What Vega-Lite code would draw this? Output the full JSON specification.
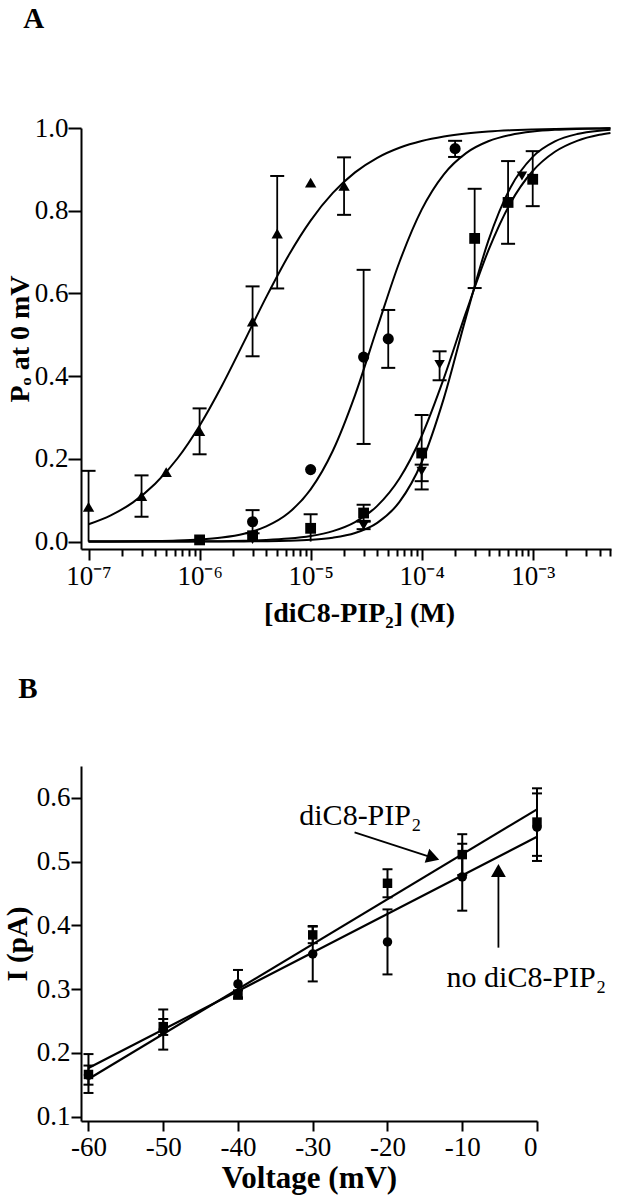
{
  "$schema": "https://vega.github.io/schema/vega-lite/v6.json",
  "padding": {"left": 3, "top": 5, "right": 5, "bottom": 3},
  "background": "white",
  "spacing": 48,
  "resolve": {"scale": {"shape": "independent", "size": "independent"}},
  "config": {
    "view": {"stroke": null},
    "font": "Liberation Serif",
    "axis": {
      "domainColor": "black", "domainWidth": 2, "tickColor": "black", "tickWidth": 2,
      "labelColor": "black", "titleColor": "black", "grid": false,
      "labelFont": "Liberation Serif", "titleFont": "Liberation Serif",
      "labelFontSize": 27, "titleFontSize": 29, "titleFontWeight": "bold", "labelPadding": 2
    }
  },
  "datasets": {
    "curves": [
      {"curve": "T", "conc": 1e-7, "P": 0.0418}, {"curve": "T", "conc": 1.585e-7, "P": 0.0634}, {"curve": "T", "conc": 2.512e-7, "P": 0.0948}, {"curve": "T", "conc": 3.981e-7, "P": 0.1396}, {"curve": "T", "conc": 6.31e-7, "P": 0.2008},
      {"curve": "T", "conc": 1e-6, "P": 0.2802}, {"curve": "T", "conc": 1.585e-6, "P": 0.3761}, {"curve": "T", "conc": 2.512e-6, "P": 0.4828}, {"curve": "T", "conc": 3.981e-6, "P": 0.5911}, {"curve": "T", "conc": 6.31e-6, "P": 0.6913},
      {"curve": "T", "conc": 1e-5, "P": 0.7762}, {"curve": "T", "conc": 1.585e-5, "P": 0.843}, {"curve": "T", "conc": 2.512e-5, "P": 0.8927}, {"curve": "T", "conc": 3.981e-5, "P": 0.928}, {"curve": "T", "conc": 6.31e-5, "P": 0.9523},
      {"curve": "T", "conc": 1e-4, "P": 0.9687}, {"curve": "T", "conc": 1.585e-4, "P": 0.9795}, {"curve": "T", "conc": 2.512e-4, "P": 0.9867}, {"curve": "T", "conc": 3.981e-4, "P": 0.9914}, {"curve": "T", "conc": 6.31e-4, "P": 0.9944},
      {"curve": "T", "conc": 1e-3, "P": 0.9964}, {"curve": "T", "conc": 1.585e-3, "P": 0.9977}, {"curve": "T", "conc": 2.512e-3, "P": 0.9985}, {"curve": "T", "conc": 3.981e-3, "P": 0.999}, {"curve": "T", "conc": 5.012e-3, "P": 0.9992},

      {"curve": "C", "conc": 1e-7, "P": 0.0002}, {"curve": "C", "conc": 1.585e-7, "P": 0.0004}, {"curve": "C", "conc": 2.512e-7, "P": 0.0007}, {"curve": "C", "conc": 3.981e-7, "P": 0.0013}, {"curve": "C", "conc": 6.31e-7, "P": 0.0026},
      {"curve": "C", "conc": 1e-6, "P": 0.0051}, {"curve": "C", "conc": 1.585e-6, "P": 0.0099}, {"curve": "C", "conc": 2.512e-6, "P": 0.0191}, {"curve": "C", "conc": 3.981e-6, "P": 0.0366}, {"curve": "C", "conc": 6.31e-6, "P": 0.0689},
      {"curve": "C", "conc": 1e-5, "P": 0.1261}, {"curve": "C", "conc": 1.585e-5, "P": 0.2196}, {"curve": "C", "conc": 2.512e-5, "P": 0.3542}, {"curve": "C", "conc": 3.981e-5, "P": 0.5169}, {"curve": "C", "conc": 6.31e-5, "P": 0.676},
      {"curve": "C", "conc": 1e-4, "P": 0.8026}, {"curve": "C", "conc": 1.585e-4, "P": 0.888}, {"curve": "C", "conc": 2.512e-4, "P": 0.9393}, {"curve": "C", "conc": 3.981e-4, "P": 0.9679}, {"curve": "C", "conc": 6.31e-4, "P": 0.9833},
      {"curve": "C", "conc": 1e-3, "P": 0.9913}, {"curve": "C", "conc": 1.585e-3, "P": 0.9955}, {"curve": "C", "conc": 2.512e-3, "P": 0.9977}, {"curve": "C", "conc": 3.981e-3, "P": 0.9988}, {"curve": "C", "conc": 5.012e-3, "P": 0.9992},

      {"curve": "S", "conc": 1e-7, "P": 0.0}, {"curve": "S", "conc": 1.585e-7, "P": 0.00004}, {"curve": "S", "conc": 2.512e-7, "P": 0.00008}, {"curve": "S", "conc": 3.981e-7, "P": 0.00015}, {"curve": "S", "conc": 6.31e-7, "P": 0.00029},
      {"curve": "S", "conc": 1e-6, "P": 0.00054}, {"curve": "S", "conc": 1.585e-6, "P": 0.00103}, {"curve": "S", "conc": 2.512e-6, "P": 0.00197}, {"curve": "S", "conc": 3.981e-6, "P": 0.00374}, {"curve": "S", "conc": 6.31e-6, "P": 0.00711},
      {"curve": "S", "conc": 1e-5, "P": 0.01346}, {"curve": "S", "conc": 1.585e-5, "P": 0.0253}, {"curve": "S", "conc": 2.512e-5, "P": 0.0472}, {"curve": "S", "conc": 3.981e-5, "P": 0.0863}, {"curve": "S", "conc": 6.31e-5, "P": 0.1525},
      {"curve": "S", "conc": 1e-4, "P": 0.2553}, {"curve": "S", "conc": 1.585e-4, "P": 0.3951}, {"curve": "S", "conc": 2.512e-4, "P": 0.5546}, {"curve": "S", "conc": 3.981e-4, "P": 0.7035}, {"curve": "S", "conc": 6.31e-4, "P": 0.8189},
      {"curve": "S", "conc": 1e-3, "P": 0.896}, {"curve": "S", "conc": 1.585e-3, "P": 0.9426}, {"curve": "S", "conc": 2.512e-3, "P": 0.969}, {"curve": "S", "conc": 3.981e-3, "P": 0.9835}, {"curve": "S", "conc": 5.012e-3, "P": 0.988},

      {"curve": "V", "conc": 1e-7, "P": 0.0}, {"curve": "V", "conc": 1.585e-7, "P": 0.0}, {"curve": "V", "conc": 2.512e-7, "P": 0.0}, {"curve": "V", "conc": 3.981e-7, "P": 0.00001}, {"curve": "V", "conc": 6.31e-7, "P": 0.00003},
      {"curve": "V", "conc": 1e-6, "P": 0.000075}, {"curve": "V", "conc": 1.585e-6, "P": 0.00017}, {"curve": "V", "conc": 2.512e-6, "P": 0.00038}, {"curve": "V", "conc": 3.981e-6, "P": 0.00084}, {"curve": "V", "conc": 6.31e-6, "P": 0.00188},
      {"curve": "V", "conc": 1e-5, "P": 0.0042}, {"curve": "V", "conc": 1.585e-5, "P": 0.00935}, {"curve": "V", "conc": 2.512e-5, "P": 0.0207}, {"curve": "V", "conc": 3.981e-5, "P": 0.0452}, {"curve": "V", "conc": 6.31e-5, "P": 0.0958},
      {"curve": "V", "conc": 1e-4, "P": 0.1918}, {"curve": "V", "conc": 1.585e-4, "P": 0.3469}, {"curve": "V", "conc": 2.512e-4, "P": 0.5433}, {"curve": "V", "conc": 3.981e-4, "P": 0.727}, {"curve": "V", "conc": 6.31e-4, "P": 0.8563},
      {"curve": "V", "conc": 1e-3, "P": 0.9303}, {"curve": "V", "conc": 1.585e-3, "P": 0.9676}, {"curve": "V", "conc": 2.512e-3, "P": 0.9853}, {"curve": "V", "conc": 3.981e-3, "P": 0.9934}, {"curve": "V", "conc": 5.012e-3, "P": 0.9956}
    ],
    "ptsA": [
      {"series": "T", "conc": 1e-7, "P": 0.084, "lo": 0.0, "hi": 0.171},
      {"series": "T", "conc": 3e-7, "P": 0.11, "lo": 0.06, "hi": 0.16},
      {"series": "T", "conc": 5e-7, "P": 0.168, "lo": null, "hi": null},
      {"series": "T", "conc": 1e-6, "P": 0.267, "lo": 0.211, "hi": 0.322},
      {"series": "T", "conc": 3e-6, "P": 0.532, "lo": 0.448, "hi": 0.617},
      {"series": "T", "conc": 5e-6, "P": 0.745, "lo": 0.612, "hi": 0.884},
      {"series": "T", "conc": 1e-5, "P": 0.868, "lo": null, "hi": null},
      {"series": "T", "conc": 2e-5, "P": 0.86, "lo": 0.79, "hi": 0.929},
      {"series": "C", "conc": 3e-6, "P": 0.048, "lo": 0.02, "hi": 0.076},
      {"series": "C", "conc": 1e-5, "P": 0.174, "lo": null, "hi": null},
      {"series": "C", "conc": 3e-5, "P": 0.446, "lo": 0.236, "hi": 0.657},
      {"series": "C", "conc": 5e-5, "P": 0.49, "lo": 0.42, "hi": 0.56},
      {"series": "C", "conc": 2e-4, "P": 0.95, "lo": 0.93, "hi": 0.969},
      {"series": "S", "conc": 1e-6, "P": 0.004, "lo": null, "hi": null},
      {"series": "S", "conc": 3e-6, "P": 0.014, "lo": null, "hi": null},
      {"series": "S", "conc": 1e-5, "P": 0.032, "lo": 0.0, "hi": 0.066},
      {"series": "S", "conc": 3e-5, "P": 0.069, "lo": 0.05, "hi": 0.089},
      {"series": "S", "conc": 1e-4, "P": 0.214, "lo": 0.126, "hi": 0.306},
      {"series": "S", "conc": 3e-4, "P": 0.733, "lo": 0.613, "hi": 0.853},
      {"series": "S", "conc": 6e-4, "P": 0.82, "lo": 0.72, "hi": 0.92},
      {"series": "S", "conc": 1e-3, "P": 0.876, "lo": 0.811, "hi": 0.944},
      {"series": "V", "conc": 3e-6, "P": 0.005, "lo": null, "hi": null},
      {"series": "V", "conc": 3e-5, "P": 0.039, "lo": 0.03, "hi": 0.048},
      {"series": "V", "conc": 1e-4, "P": 0.17, "lo": 0.146, "hi": 0.186},
      {"series": "V", "conc": 1.45e-4, "P": 0.428, "lo": 0.39, "hi": 0.46},
      {"series": "V", "conc": 8e-4, "P": 0.884, "lo": null, "hi": null}
    ],
    "ivLines": [
      {"series": "diC8", "V": -60, "I": 0.159}, {"series": "diC8", "V": 0, "I": 0.582},
      {"series": "none", "V": -60, "I": 0.176}, {"series": "none", "V": 0, "I": 0.539}
    ],
    "ivPts": [
      {"series": "diC8", "V": -60, "I": 0.166, "lo": 0.137, "hi": 0.198},
      {"series": "diC8", "V": -50, "I": 0.241, "lo": 0.228, "hi": 0.253},
      {"series": "diC8", "V": -40, "I": 0.291, "lo": 0.285, "hi": 0.298},
      {"series": "diC8", "V": -30, "I": 0.385, "lo": 0.372, "hi": 0.399},
      {"series": "diC8", "V": -20, "I": 0.466, "lo": 0.444, "hi": 0.488},
      {"series": "diC8", "V": -10, "I": 0.511, "lo": 0.479, "hi": 0.543},
      {"series": "diC8", "V": 0, "I": 0.562, "lo": 0.509, "hi": 0.615},
      {"series": "none", "V": -60, "I": 0.165, "lo": 0.15, "hi": 0.18},
      {"series": "none", "V": -50, "I": 0.236, "lo": 0.205, "hi": 0.268},
      {"series": "none", "V": -40, "I": 0.308, "lo": 0.287, "hi": 0.33},
      {"series": "none", "V": -30, "I": 0.355, "lo": 0.312, "hi": 0.398},
      {"series": "none", "V": -20, "I": 0.374, "lo": 0.323, "hi": 0.425},
      {"series": "none", "V": -10, "I": 0.476, "lo": 0.423, "hi": 0.528},
      {"series": "none", "V": 0, "I": 0.554, "lo": 0.501, "hi": 0.607}
    ],
    "notes": [
      {"V": -31.8, "I": 0.558, "text": "diC8-PIP₂"},
      {"V": -12.1, "I": 0.303, "text": "no diC8-PIP₂"}
    ],
    "arrows": [
      {"V": -24.4, "I": 0.546, "V2": -13.9, "I2": 0.506},
      {"V": -5.16, "I": 0.365, "V2": -5.16, "I2": 0.49}
    ],
    "head1": [{"V": -13.9, "I": 0.506}],
    "head2": [{"V": -5.16, "I": 0.486}]
  },
  "vconcat": [
    {
      "width": 530,
      "height": 421,
      "title": {"text": "A", "anchor": "start", "frame": "bounds", "fontSize": 29, "fontWeight": "bold", "font": "Liberation Serif", "color": "black", "offset": 80, "dx": 17},
      "layer": [
        {
          "data": {"name": "curves"},
          "mark": {"type": "line", "color": "black", "strokeWidth": 2, "interpolate": "monotone"},
          "encoding": {
            "x": {
              "field": "conc", "type": "quantitative", "title": "[diC8-PIP₂] (M)",
              "scale": {"type": "log", "domain": [8.55e-8, 5.07e-3], "nice": false},
              "axis": {
                "values": [1e-7, 2e-7, 3e-7, 4e-7, 5e-7, 6e-7, 7e-7, 8e-7, 9e-7, 1e-6, 2e-6, 3e-6, 4e-6, 5e-6, 6e-6, 7e-6, 8e-6, 9e-6, 1e-5, 2e-5, 3e-5, 4e-5, 5e-5, 6e-5, 7e-5, 8e-5, 9e-5, 1e-4, 2e-4, 3e-4, 4e-4, 5e-4, 6e-4, 7e-4, 8e-4, 9e-4, 1e-3, 2e-3, 3e-3, 4e-3, 5e-3],
                "tickSize": {"condition": {"test": "abs(log(datum.value)/LN10 - round(log(datum.value)/LN10)) < 0.001", "value": 11}, "value": 7},
                "labelExpr": "abs(log(datum.value)/LN10 - round(log(datum.value)/LN10)) < 0.001 ? '10⁻' + ['⁰','¹','²','³','⁴','⁵','⁶','⁷','⁸','⁹'][-round(log(datum.value)/LN10)] : ''",
                "labelFontSize": 27, "labelPadding": 3, "titleFontSize": 28, "titlePadding": 10, "titleX": 278, "labelOverlap": false, "labelBound": false
              }
            },
            "y": {
              "field": "P", "type": "quantitative", "title": "Pₒ at 0 mV",
              "scale": {"domain": [-0.018, 1], "nice": false, "zero": false},
              "axis": {"values": [0, 0.2, 0.4, 0.6, 0.8, 1.0], "format": ".1f", "tickSize": 13, "titlePadding": 0, "labelPadding": 0, "labelFontSize": 27, "titleFontSize": 28}
            },
            "detail": {"field": "curve", "type": "nominal"}
          }
        },
        {
          "data": {"name": "ptsA"},
          "transform": [{"filter": "isValid(datum.lo)"}],
          "mark": {"type": "rule", "color": "black", "strokeWidth": 1.8},
          "encoding": {
            "x": {"field": "conc", "type": "quantitative", "title": "[diC8-PIP₂] (M)"},
            "y": {"field": "lo", "type": "quantitative", "title": "Pₒ at 0 mV"},
            "y2": {"field": "hi"}
          }
        },
        {
          "data": {"name": "ptsA"},
          "transform": [{"filter": "isValid(datum.lo) && datum.lo > 0.001"}],
          "mark": {"type": "tick", "color": "black", "opacity": 1, "orient": "horizontal", "size": 14, "thickness": 2},
          "encoding": {
            "x": {"field": "conc", "type": "quantitative", "title": "[diC8-PIP₂] (M)"},
            "y": {"field": "lo", "type": "quantitative", "title": "Pₒ at 0 mV"}
          }
        },
        {
          "data": {"name": "ptsA"},
          "transform": [{"filter": "isValid(datum.hi)"}],
          "mark": {"type": "tick", "color": "black", "opacity": 1, "orient": "horizontal", "size": 14, "thickness": 2},
          "encoding": {
            "x": {"field": "conc", "type": "quantitative", "title": "[diC8-PIP₂] (M)"},
            "y": {"field": "hi", "type": "quantitative", "title": "Pₒ at 0 mV"}
          }
        },
        {
          "data": {"name": "ptsA"},
          "mark": {"type": "point", "filled": true, "color": "black", "opacity": 1},
          "encoding": {
            "x": {"field": "conc", "type": "quantitative", "title": "[diC8-PIP₂] (M)"},
            "y": {"field": "P", "type": "quantitative", "title": "Pₒ at 0 mV"},
            "shape": {"field": "series", "type": "nominal", "scale": {"domain": ["T", "C", "S", "V"], "range": ["triangle-up", "circle", "square", "triangle-down"]}, "legend": null},
            "size": {"field": "series", "type": "nominal", "scale": {"domain": ["T", "C", "S", "V"], "range": [130, 110, 110, 130]}, "legend": null}
          }
        }
      ]
    },
    {
      "width": 456,
      "height": 355,
      "title": {"text": "B", "anchor": "start", "frame": "bounds", "fontSize": 29, "fontWeight": "bold", "font": "Liberation Serif", "color": "black", "offset": 62, "dx": 15},
      "layer": [
        {
          "data": {"name": "ivLines"},
          "mark": {"type": "line", "color": "black", "strokeWidth": 2.2},
          "encoding": {
            "x": {
              "field": "V", "type": "quantitative", "title": "Voltage (mV)",
              "scale": {"domain": [-61, 0], "nice": false, "zero": false},
              "axis": {"values": [-60, -50, -40, -30, -20, -10, 0], "tickSize": 10, "labelExpr": "replace(datum.label, '\u2212', '-')", "labelFontSize": 27, "labelPadding": 3, "titleFontSize": 31, "titlePadding": 3}
            },
            "y": {
              "field": "I", "type": "quantitative", "title": "I (pA)",
              "scale": {"domain": [0.093, 0.65], "nice": false, "zero": false},
              "axis": {"values": [0.1, 0.2, 0.3, 0.4, 0.5, 0.6], "format": ".1f", "tickSize": 10, "titlePadding": 4, "labelPadding": 1, "labelFontSize": 27}
            },
            "detail": {"field": "series", "type": "nominal"}
          }
        },
        {
          "data": {"name": "ivPts"},
          "mark": {"type": "rule", "color": "black", "strokeWidth": 2},
          "encoding": {
            "x": {"field": "V", "type": "quantitative", "title": "Voltage (mV)"},
            "y": {"field": "lo", "type": "quantitative", "title": "I (pA)"},
            "y2": {"field": "hi"}
          }
        },
        {
          "data": {"name": "ivPts"},
          "mark": {"type": "tick", "color": "black", "opacity": 1, "orient": "horizontal", "size": 10, "thickness": 2},
          "encoding": {
            "x": {"field": "V", "type": "quantitative", "title": "Voltage (mV)"},
            "y": {"field": "lo", "type": "quantitative", "title": "I (pA)"}
          }
        },
        {
          "data": {"name": "ivPts"},
          "mark": {"type": "tick", "color": "black", "opacity": 1, "orient": "horizontal", "size": 10, "thickness": 2},
          "encoding": {
            "x": {"field": "V", "type": "quantitative", "title": "Voltage (mV)"},
            "y": {"field": "hi", "type": "quantitative", "title": "I (pA)"}
          }
        },
        {
          "data": {"name": "ivPts"},
          "mark": {"type": "point", "filled": true, "color": "black", "opacity": 1},
          "encoding": {
            "x": {"field": "V", "type": "quantitative", "title": "Voltage (mV)"},
            "y": {"field": "I", "type": "quantitative", "title": "I (pA)"},
            "shape": {"field": "series", "type": "nominal", "scale": {"domain": ["diC8", "none"], "range": ["square", "circle"]}, "legend": null},
            "size": {"value": 90}
          }
        },
        {
          "data": {"name": "arrows"},
          "mark": {"type": "rule", "color": "black", "strokeWidth": 1.8},
          "encoding": {
            "x": {"field": "V", "type": "quantitative", "title": "Voltage (mV)"},
            "y": {"field": "I", "type": "quantitative", "title": "I (pA)"},
            "x2": {"field": "V2"},
            "y2": {"field": "I2"}
          }
        },
        {
          "data": {"name": "head1"},
          "mark": {"type": "point", "shape": "triangle-right", "angle": 18, "filled": true, "color": "black", "opacity": 1, "size": 220},
          "encoding": {
            "x": {"field": "V", "type": "quantitative", "title": "Voltage (mV)"},
            "y": {"field": "I", "type": "quantitative", "title": "I (pA)"}
          }
        },
        {
          "data": {"name": "head2"},
          "mark": {"type": "point", "shape": "triangle-up", "filled": true, "color": "black", "opacity": 1, "size": 220},
          "encoding": {
            "x": {"field": "V", "type": "quantitative", "title": "Voltage (mV)"},
            "y": {"field": "I", "type": "quantitative", "title": "I (pA)"}
          }
        },
        {
          "data": {"name": "notes"},
          "mark": {"type": "text", "align": "left", "baseline": "alphabetic", "font": "Liberation Serif", "fontSize": 30, "color": "black"},
          "encoding": {
            "x": {"field": "V", "type": "quantitative", "title": "Voltage (mV)"},
            "y": {"field": "I", "type": "quantitative", "title": "I (pA)"},
            "text": {"field": "text"}
          }
        }
      ]
    }
  ]
}
